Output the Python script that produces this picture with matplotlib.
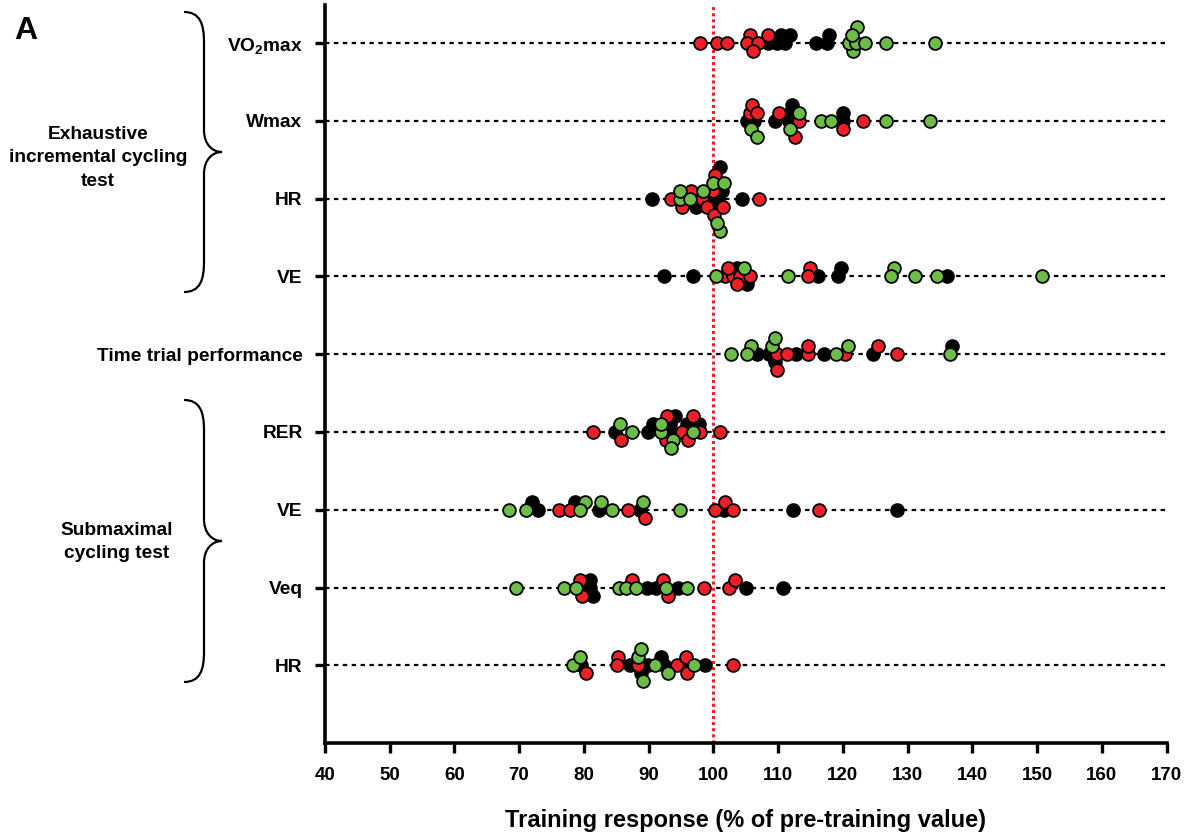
import numpy as np
import matplotlib
matplotlib.use("Agg")
import matplotlib.pyplot as plt
from matplotlib.path import Path
from matplotlib.patches import PathPatch

plt.rcParams['font.family'] = ['Liberation Sans', 'DejaVu Sans']
plt.rcParams['mathtext.fontset'] = 'custom'
plt.rcParams['mathtext.rm'] = 'Liberation Sans:bold'
plt.rcParams['mathtext.bf'] = 'Liberation Sans:bold'
plt.rcParams['mathtext.default'] = 'bf'

# ---------------- data ----------------
row_labels = ["VO$_2$max", "Wmax", "HR", "VE", "Time trial performance",
              "RER", "VE", "Veq", "HR"]

black_vals = [
    [108.5, 110.5, 111.0, 109.9, 111.8, 115.8, 117.5, 117.9],
    [105.2, 109.5, 111.8, 111.7, 120.1, 120.1, 112.2, 106.3],
    [90.5, 97.3, 100.2, 101.0, 100.8, 104.5, 99.6, 101.3],
    [92.4, 96.9, 103.6, 105.2, 116.2, 119.3, 119.7, 136.1],
    [106.7, 108.6, 109.5, 112.8, 117.1, 124.6, 136.8],
    [84.8, 89.9, 90.7, 93.2, 94.1, 93.3, 96.0, 97.8],
    [72.0, 73.0, 78.6, 82.4, 88.7, 101.7, 112.3, 128.3],
    [81.0, 81.0, 81.4, 89.8, 91.2, 94.6, 105.1, 110.8],
    [79.5, 87.1, 88.8, 89.9, 92.0, 92.4, 95.5, 98.7],
]
red_vals = [
    [98.0, 100.5, 102.1, 105.6, 105.2, 106.9, 106.1, 108.5],
    [105.6, 106.0, 106.7, 110.2, 112.6, 113.3, 120.1, 123.1],
    [93.5, 95.1, 96.6, 98.2, 99.1, 100.0, 100.1, 100.3, 101.5, 107.1],
    [101.8, 103.1, 104.2, 105.6, 102.3, 103.7, 115.0, 114.6],
    [109.8, 109.9, 111.4, 114.6, 114.6, 120.3, 125.4, 128.3],
    [81.5, 85.8, 92.7, 92.9, 95.1, 96.9, 96.1, 98.0, 101.1],
    [76.2, 77.9, 86.8, 89.5, 100.2, 101.8, 103.1, 116.4],
    [79.4, 79.8, 87.5, 93.0, 92.2, 98.6, 102.4, 103.4],
    [80.3, 85.3, 85.2, 88.4, 94.4, 95.8, 95.9, 103.1],
]
green_vals = [
    [121.6, 122.2, 121.0, 122.1, 123.5, 121.4, 126.6, 134.2],
    [105.9, 106.8, 111.9, 113.3, 116.7, 118.2, 126.6, 133.4],
    [94.9, 94.9, 96.4, 98.4, 100.0, 101.6, 101.0, 100.5],
    [100.4, 104.7, 111.6, 127.9, 127.5, 131.2, 134.6, 150.7],
    [102.8, 105.9, 105.2, 109.0, 109.6, 118.9, 120.8, 136.6],
    [85.6, 87.5, 92.0, 93.8, 92.0, 93.5, 96.8],
    [68.5, 71.1, 80.2, 79.4, 82.6, 84.3, 89.2, 94.8],
    [69.6, 76.9, 78.8, 85.4, 86.5, 88.1, 92.7, 96.0],
    [78.4, 79.4, 88.4, 88.8, 89.2, 91.0, 93.0, 97.0],
]
x_ticks = list(range(40, 171, 10))
group_labels = ["Exhaustive\nincremental cycling\ntest", "Submaximal\ncycling test"]

colors = {"black": "#000000", "red": "#ee2027", "green": "#6cbd45"}

# ---------------- figure ----------------
W, H, DPI = 1194, 834, 100
fig = plt.figure(figsize=(W / DPI, H / DPI), dpi=DPI)
ax = fig.add_axes([0.272, 0.109, 0.705, 0.885])
xlim = (40, 170)
ylim = (0, 9.49)
ax.set_xlim(*xlim)
ax.set_ylim(*ylim)

pos = ax.get_position()
px_per_x = pos.width * W / (xlim[1] - xlim[0])
px_per_y = pos.height * H / (ylim[1] - ylim[0])

n_rows = len(row_labels)
row_y = [n_rows - i for i in range(n_rows)]

# dotted row lines
for y in row_y:
    ax.plot([40, 170], [y, y], color="black", lw=1.6, linestyle=(0, (2, 2)),
            zorder=1, clip_on=False)
# reference line at 100
ax.axvline(100, color="#ee2027", lw=2.2, linestyle=(0, (1, 1)), zorder=2)


def swarm(values, step_px=8.0, min_px=6.8):
    order = np.argsort(values, kind="stable")
    placed = []
    offs = np.zeros(len(values))
    cands = [0]
    for j in range(1, 10):
        cands += [j, -j]
    for idx in order:
        xv = values[idx] * px_per_x
        for c in cands:
            yo = c * step_px
            if all(np.hypot(xv - px, yo - py) >= min_px for px, py in placed):
                placed.append((xv, yo))
                offs[idx] = yo / px_per_y
                break
    return offs


for i, y in enumerate(row_y):
    vals = []
    cols = []
    for name, arr in (("black", black_vals), ("red", red_vals), ("green", green_vals)):
        vals += arr[i]
        cols += [name] * len(arr[i])
    vals = np.array(vals)
    offs = swarm(vals)
    for name, z in (("black", 3), ("red", 4), ("green", 5)):
        m = np.array([c == name for c in cols])
        ax.scatter(vals[m], y + offs[m], s=85, c=colors[name], edgecolors="black",
                   linewidths=1.3, zorder=z, clip_on=False)

# axes styling
for s in ("top", "right"):
    ax.spines[s].set_visible(False)
for s in ("left", "bottom"):
    ax.spines[s].set_linewidth(2.6)
ax.set_yticks(row_y)
ax.set_yticklabels(row_labels, fontsize=13.8, fontweight="bold")
ax.tick_params(axis="y", direction="out", length=7, width=2.4, pad=9)
ax.set_xticks(x_ticks)
ax.set_xticklabels([str(t) for t in x_ticks], fontsize=13.5, fontweight="bold")
ax.tick_params(axis="x", direction="out", length=7, width=2.4, pad=10)
ax.set_xlabel("Training response (% of pre-training value)", fontsize=17,
              fontweight="bold", labelpad=18)


# braces and group labels (figure pixel coordinates, y from top)
def fpt(x, y):
    return (x / W, 1 - y / H)


def brace(top, tip, bottom, x0=184, x1=204, xt=222):
    verts = [fpt(x0, top), fpt(x1 - 4, top), fpt(x1, top + 12), fpt(x1, top + 30),
             fpt(x1, tip - 22),
             fpt(x1, tip - 8), fpt(xt - 10, tip), fpt(xt, tip),
             fpt(xt - 10, tip), fpt(x1, tip + 8), fpt(x1, tip + 22),
             fpt(x1, bottom - 30),
             fpt(x1, bottom - 12), fpt(x1 - 4, bottom), fpt(x0, bottom)]
    codes = [Path.MOVETO, Path.CURVE4, Path.CURVE4, Path.CURVE4,
             Path.LINETO,
             Path.CURVE4, Path.CURVE4, Path.CURVE4,
             Path.CURVE4, Path.CURVE4, Path.CURVE4,
             Path.LINETO,
             Path.CURVE4, Path.CURVE4, Path.CURVE4]
    p = PathPatch(Path(verts, codes), transform=fig.transFigure, fill=False,
                  lw=1.6, edgecolor="black")
    fig.patches.append(p)


brace(12, 152, 292)
brace(400, 541, 682)

fig.text(98 / W, 1 - 158 / H, group_labels[0], ha="center", va="center",
         fontsize=13.8, fontweight="bold", linespacing=1.5)
fig.text(117 / W, 1 - 542 / H, group_labels[1], ha="center", va="center",
         fontsize=13.8, fontweight="bold", linespacing=1.5)
fig.text(14 / W, 1 - 31 / H, "A", ha="left", va="center", fontsize=23,
         fontweight="bold")

fig.savefig("out.png", dpi=DPI)
